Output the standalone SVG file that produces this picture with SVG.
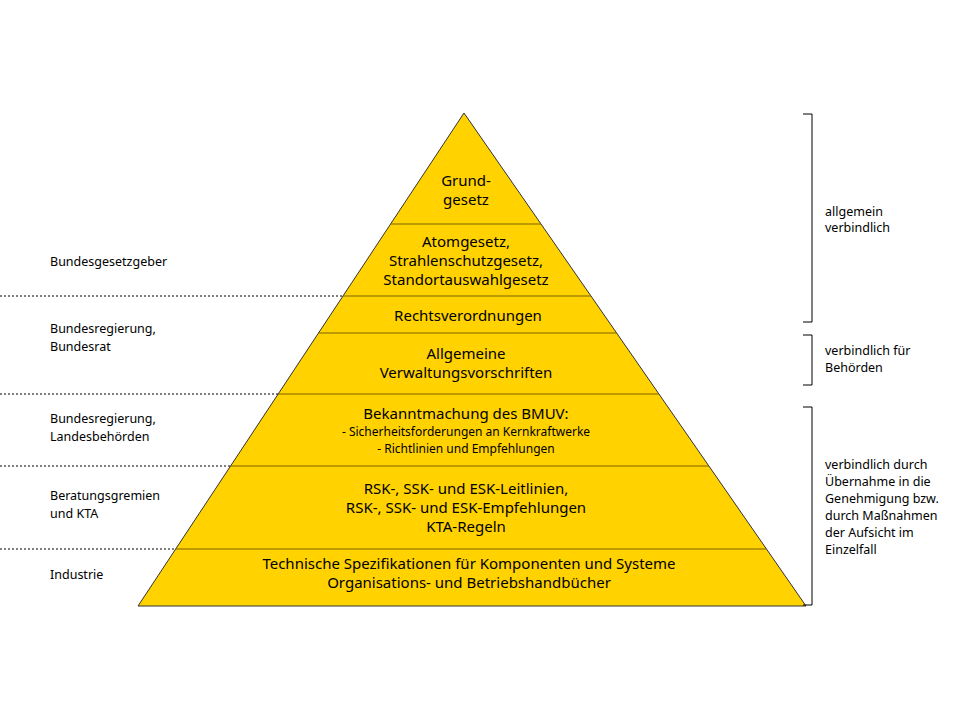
<svg xmlns="http://www.w3.org/2000/svg" width="960" height="720" viewBox="0 0 960 720">
<style>
.t{font-family:"Noto Sans","Liberation Sans",sans-serif;font-size:15px;fill:#000;text-anchor:middle}
.s{font-size:12px}
.l{font-family:"Noto Sans","Liberation Sans",sans-serif;font-size:12.5px;fill:#000}
.d{stroke:#000;stroke-width:1;stroke-dasharray:2,2;fill:none}
.b{stroke:#000;stroke-width:1;fill:none}
.sep{stroke:#7a6200;stroke-width:1.2}
</style>
<rect width="960" height="720" fill="#fff"/>
<g id="pyramid">
<polygon points="464,113 806,606 138,606" fill="#FFD200" stroke="#333" stroke-width="1"/>
</g>
<g id="connectors">
<line class="sep" x1="390.6" y1="224" x2="541" y2="224"/>
<line class="sep" x1="342.9" y1="296" x2="591" y2="296"/>
<line class="sep" x1="318.5" y1="333" x2="616.6" y2="333"/>
<line class="sep" x1="278.2" y1="394" x2="658.9" y2="394"/>
<line class="sep" x1="230.6" y1="466" x2="708.9" y2="466"/>
<line class="sep" x1="175.7" y1="549" x2="766.5" y2="549"/>
<line class="d" x1="0" y1="296" x2="342.9" y2="296"/>
<line class="d" x1="0" y1="394" x2="278.2" y2="394"/>
<line class="d" x1="0" y1="466" x2="230.6" y2="466"/>
<line class="d" x1="0" y1="549" x2="175.7" y2="549"/>
<path class="b" d="M803,114 H812 V322 H803"/>
<path class="b" d="M803,335 H812 V385 H803"/>
<path class="b" d="M803,407 H812 V605 H803"/>
</g>
<g id="n1"><text class="t" x="466" y="186">Grund-</text><text class="t" x="466" y="205">gesetz</text></g>
<g id="n2"><text class="t" x="466" y="247">Atomgesetz,</text><text class="t" x="466" y="266">Strahlenschutzgesetz,</text><text class="t" x="466" y="285">Standortauswahlgesetz</text></g>
<g id="n3"><text class="t" x="468" y="321">Rechtsverordnungen</text></g>
<g id="n4"><text class="t" x="466" y="359">Allgemeine</text><text class="t" x="466" y="378">Verwaltungsvorschriften</text></g>
<g id="n5"><text class="t" x="466" y="419">Bekanntmachung des BMUV:</text><text class="t s" x="466" y="436">- Sicherheitsforderungen an Kernkraftwerke</text><text class="t s" x="466" y="453">- Richtlinien und Empfehlungen</text></g>
<g id="n6"><text class="t" x="466" y="494">RSK-, SSK- und ESK-Leitlinien,</text><text class="t" x="466" y="513">RSK-, SSK- und ESK-Empfehlungen</text><text class="t" x="466" y="532">KTA-Regeln</text></g>
<g id="n7"><text class="t" x="469" y="569">Technische Spezifikationen für Komponenten und Systeme</text><text class="t" x="469" y="588">Organisations- und Betriebshandbücher</text></g>
<g id="left">
<text class="l" x="50" y="266">Bundesgesetzgeber</text>
<text class="l" x="50" y="333">Bundesregierung,</text><text class="l" x="50" y="351">Bundesrat</text>
<text class="l" x="50" y="423">Bundesregierung,</text><text class="l" x="50" y="441">Landesbehörden</text>
<text class="l" x="50" y="500">Beratungsgremien</text><text class="l" x="50" y="518">und KTA</text>
<text class="l" x="50" y="579">Industrie</text>
</g>
<g id="right">
<text class="l" x="825" y="216">allgemein</text><text class="l" x="825" y="232">verbindlich</text>
<text class="l" x="825" y="355">verbindlich für</text><text class="l" x="825" y="372">Behörden</text>
<text class="l" x="825" y="469">verbindlich durch</text><text class="l" x="825" y="486">Übernahme in die</text><text class="l" x="825" y="503">Genehmigung bzw.</text><text class="l" x="825" y="520">durch Maßnahmen</text><text class="l" x="825" y="537">der Aufsicht im</text><text class="l" x="825" y="554">Einzelfall</text>
</g>
</svg>
